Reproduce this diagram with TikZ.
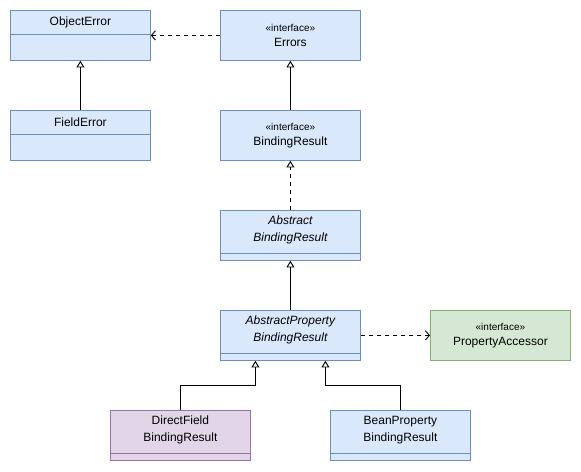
\documentclass[tikz,border=0pt]{standalone}
\usepackage{fontspec}
\setmainfont{Liberation Sans}
\usetikzlibrary{arrows.meta,positioning,calc}
\definecolor{classfill}{HTML}{DAE8FC}
\definecolor{classline}{HTML}{6C8EBF}
\definecolor{ifacefill}{HTML}{D5E8D4}
\definecolor{ifaceline}{HTML}{82B366}
\definecolor{implfill}{HTML}{E1D5E7}
\definecolor{implline}{HTML}{9673A6}

\tikzset{
  umlbox/.style={draw=classline, fill=classfill, line width=0.6pt,
    minimum width=105pt, minimum height=37.5pt, inner sep=0pt, anchor=north west},
  greenbox/.style={umlbox, draw=ifaceline, fill=ifacefill},
  purplebox/.style={umlbox, draw=implline, fill=implfill},
  classname/.style={font=\fontsize{9}{12.75}\selectfont, align=center, inner sep=0pt},
  stereo/.style={font=\fontsize{9}{11.25}\selectfont, align=center, inner sep=0pt},
  divider/.style={draw=classline, line width=0.6pt},
  inherit/.style={line width=0.7pt, -{Triangle[open, length=5pt, width=6pt]}},
  realize/.style={inherit, dashed},
  depend/.style={line width=0.7pt, dashed, -{Straight Barb[length=3pt, width=7pt]}}
}
\newcommand{\stereotag}{{\fontsize{7.5}{11.25}\selectfont\guillemotleft interface\guillemotright}}

\begin{document}
\begin{tikzpicture}[x=0.75pt, y=-0.75pt]
  \fill[white] (0,0) rectangle (581,471);
  \useasboundingbox (0,0) rectangle (581,471);

  % left column
  \node[umlbox] (objerr) at (10,10) {};
  \node[classname] (objerrname) at ($(objerr.north)+(0,12)$) {ObjectError};
  \draw[divider] ($(objerr.north west)+(0,24)$) -- ($(objerr.north east)+(0,24)$);

  \node[umlbox] (fielderr) at (10,110) {};
  \node[classname] (fielderrname) at ($(fielderr.north)+(0,12)$) {FieldError};
  \draw[divider] ($(fielderr.north west)+(0,24)$) -- ($(fielderr.north east)+(0,24)$);

  % interfaces
  \node[umlbox] (errors) at (220,10) {};
  \node[stereo] (errorsname) at (errors.center) {\stereotag\\Errors};

  \node[umlbox] (bindres) at (220,110) {};
  \node[stereo] (bindresname) at (bindres.center) {\stereotag\\BindingResult};

  % abstract classes
  \node[umlbox] (absbind) at (220,210) {};
  \node[classname] (absbindname) at ($(absbind.north)+(0,20)$) {\itshape Abstract\\\itshape BindingResult};
  \draw[divider] ($(absbind.north west)+(0,43)$) -- ($(absbind.north east)+(0,43)$);

  \node[umlbox] (abspropbind) at (220,310) {};
  \node[classname] (abspropbindname) at ($(abspropbind.north)+(0,20)$) {\itshape AbstractProperty\\\itshape BindingResult};
  \draw[divider] ($(abspropbind.north west)+(0,43)$) -- ($(abspropbind.north east)+(0,43)$);

  \node[greenbox] (propacc) at (430,310) {};
  \node[stereo] (propaccname) at (propacc.center) {\stereotag\\PropertyAccessor};

  % concrete classes
  \node[purplebox] (directfield) at (110,410) {};
  \node[classname] (directfieldname) at ($(directfield.north)+(0,20)$) {DirectField\\BindingResult};
  \draw[divider, draw=implline] ($(directfield.north west)+(0,43)$) -- ($(directfield.north east)+(0,43)$);

  \node[umlbox] (beanprop) at (330,410) {};
  \node[classname] (beanpropname) at ($(beanprop.north)+(0,20)$) {BeanProperty\\BindingResult};
  \draw[divider] ($(beanprop.north west)+(0,43)$) -- ($(beanprop.north east)+(0,43)$);

  % connectors
  \draw[depend] (errors.west) -- (objerr.east);
  \draw[inherit] (fielderr.north) -- (objerr.south);
  \draw[inherit] (bindres.north) -- (errors.south);
  \draw[realize] (absbind.north) -- (bindres.south);
  \draw[inherit] (abspropbind.north) -- (absbind.south);
  \draw[depend] (abspropbind.east) -- (propacc.west);
  \draw[inherit] (directfield.north) -- ++(0,-25) -| ([xshift=-26.25pt]abspropbind.south);
  \draw[inherit] (beanprop.north) -- ++(0,-25) -| ([xshift=26.25pt]abspropbind.south);
\end{tikzpicture}
\end{document}
